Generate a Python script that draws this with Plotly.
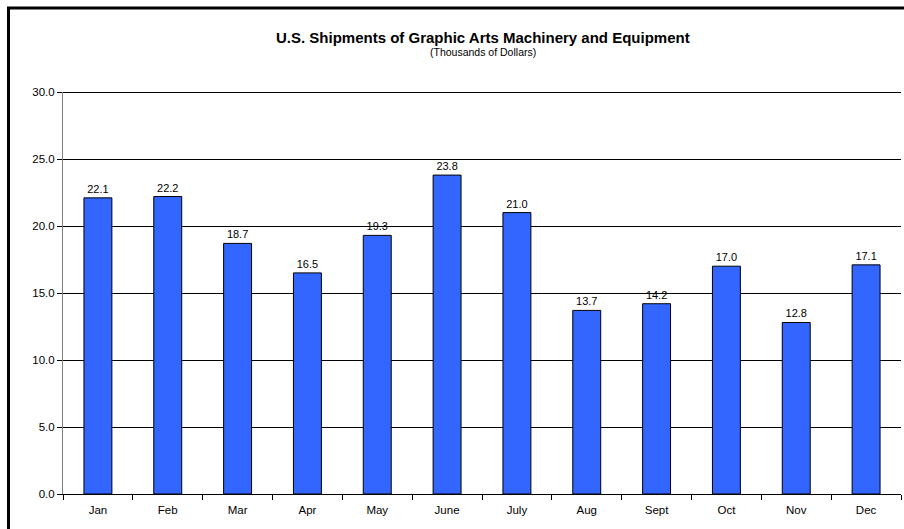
import plotly.graph_objects as go

months = ["Jan", "Feb", "Mar", "Apr", "May", "June", "July", "Aug", "Sept", "Oct", "Nov", "Dec"]
shipments = [22.1, 22.2, 18.7, 16.5, 19.3, 23.8, 21.0, 13.7, 14.2, 17.0, 12.8, 17.1]
y_ticks = [0, 5, 10, 15, 20, 25, 30]

FONT = "Liberation Sans, Arial, sans-serif"

fig = go.Figure()
fig.add_trace(go.Bar(
    x=months, y=shipments,
    marker=dict(color="#3366FF", line=dict(color="#000000", width=1)),
    text=[f"{v:.1f}" for v in shipments],
    textposition="outside",
    textfont=dict(family=FONT, size=11, color="#000000"),
    cliponaxis=False,
))

W, H = 904, 529
ml, mr, mt, mb = 63, 3, 92, 35
pw, ph = W - ml - mr, H - mt - mb

def px(x):
    return (x - ml) / pw

def py(y):
    return (H - mb - y) / ph

fig.update_layout(
    width=W, height=H,
    margin=dict(l=ml, r=mr, t=mt, b=mb),
    paper_bgcolor="white", plot_bgcolor="white",
    bargap=0.6,
    showlegend=False,
    font=dict(family=FONT, size=11, color="#000000"),
    xaxis=dict(
        showgrid=False, showline=True, linecolor="#000000", linewidth=1,
        ticks="outside", tickson="boundaries", ticklen=5, tickcolor="#000000",
        tickfont=dict(size=11.5), ticklabelstandoff=5, fixedrange=True,
    ),
    yaxis=dict(
        range=[0, 30], tickvals=y_ticks, ticktext=[f"{v:.1f}" for v in y_ticks],
        showgrid=True, gridcolor="#000000", gridwidth=1,
        showline=True, linecolor="#808080", linewidth=1,
        ticks="outside", ticklen=5, tickcolor="#000000",
        tickfont=dict(size=11.5), zeroline=False, fixedrange=True,
    ),
    annotations=[
        dict(text="<b>U.S. Shipments of Graphic Arts Machinery and Equipment</b>",
             xref="paper", yref="paper", x=px(483), y=py(37), showarrow=False,
             font=dict(size=15, family=FONT), xanchor="center", yanchor="middle"),
        dict(text="(Thousands of Dollars)",
             xref="paper", yref="paper", x=px(483), y=py(52), showarrow=False,
             font=dict(size=10.5, family=FONT), xanchor="center", yanchor="middle"),
    ],
    shapes=[
        # top gridline (Plotly skips the grid line at the range end); half-pixel offset keeps it crisp
        dict(type="line", xref="paper", yref="paper", x0=0, x1=1, y0=py(92.5), y1=py(92.5),
             line=dict(color="#000000", width=1), layer="below"),
        dict(type="rect", xref="paper", yref="paper",
             x0=px(8.5), x1=px(1100), y0=py(8), y1=py(700),
             line=dict(color="#000000", width=3), fillcolor="rgba(0,0,0,0)", layer="above"),
    ],
)

fig.write_html("out.html", config={"displayModeBar": False},
               post_script="document.body.style.margin='0';")
